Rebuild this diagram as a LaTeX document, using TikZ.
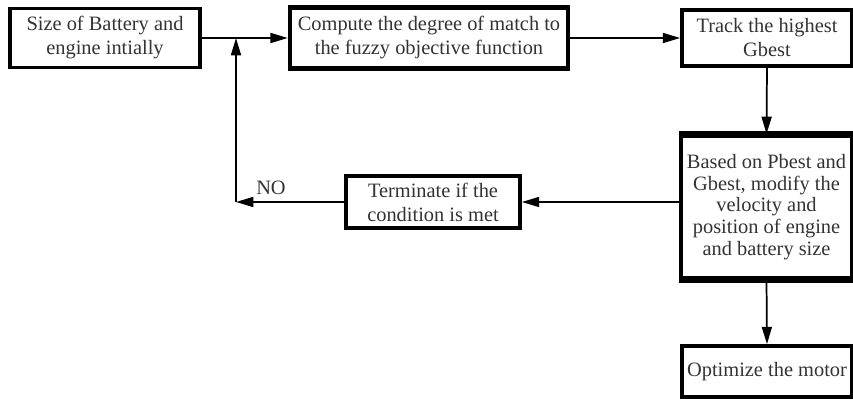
\documentclass[tikz,border=0pt]{standalone}
\usepackage{fontspec}
\setmainfont{Liberation Serif}
\usepackage{tikz}
\usetikzlibrary{arrows.meta}
\definecolor{txtgray}{HTML}{333333}

\begin{document}
\begin{tikzpicture}[x=0.75pt,y=0.75pt,
  blk/.style={draw,line width=2.8pt,align=center,inner sep=2pt,text=txtgray,
    font=\fontsize{15.3}{18}\selectfont},
  arr/.style={line width=1.3pt,-{Triangle[length=13pt,width=7.5pt]}}]
  \useasboundingbox (0,0) rectangle (853,400);
  % boxes
  \node[blk,minimum width=142.5pt,minimum height=44.25pt] (size) at (105,362)
    {Size of Battery and\\engine intially};
  \node[blk,line width=3.4pt,minimum width=208.5pt,minimum height=45.75pt] (comp) at (429,362)
    {Compute the degree of match to\\the fuzzy objective function};
  \node[blk,minimum width=127.5pt,minimum height=42pt] (track) at (767,362)
    {Track the highest\\Gbest};
  \node[blk,line width=3pt,minimum width=128.25pt,minimum height=106.5pt,
    font=\fontsize{15.3}{16.3}\selectfont] (upd) at (766.5,193)
    {Based on Pbest and\\Gbest, modify the\\velocity and\\position of engine\\and battery size};
  \draw[line width=5pt] (upd.north west) -- (upd.north east);
  \draw[line width=5pt] (upd.south west) -- (upd.south east);
  \node[blk,minimum width=130.5pt,minimum height=39pt] (term) at (433,198)
    {Terminate if the\\condition is met};
  \node[blk,minimum width=127.5pt,minimum height=38.25pt] (opt) at (767,28.5)
    {Optimize the motor};
  % connectors
  \coordinate (jn) at (236,362);
  \coordinate (cr) at (236,198);
  \draw[arr] (size.east) -- (comp.west);
  \draw[arr] (comp.east) -- (track.west);
  \draw[arr] (track.south) -- (upd.north);
  \draw[arr] (upd.west |- term.east) -- (term.east);
  \draw[arr] (upd.south) -- (opt.north);
  \draw[arr] (term.west) -- (cr);
  \draw[arr] (cr) -- (jn);
  \node[text=txtgray,font=\fontsize{15.3}{18}\selectfont] (no) at (271,212) {NO};
\end{tikzpicture}
\end{document}
